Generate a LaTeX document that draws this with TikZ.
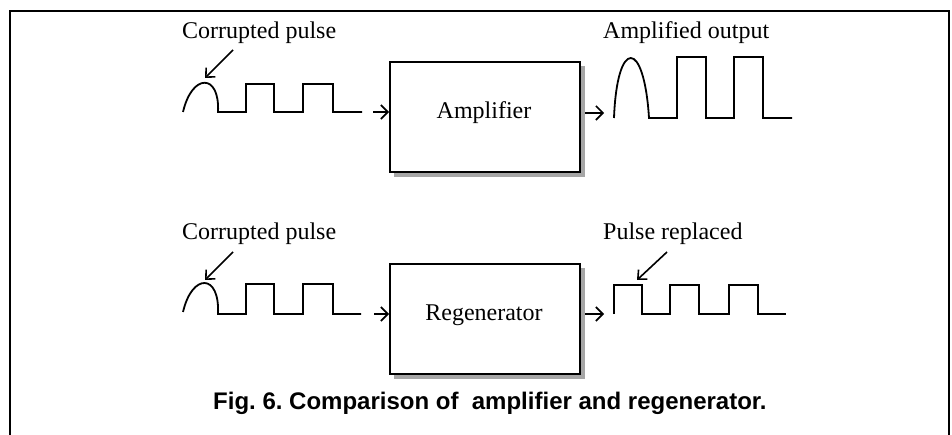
\documentclass[tikz,border=0pt]{standalone}
\usepackage{fontspec}
\setmainfont{Liberation Serif}
\setsansfont{Liberation Sans}
\usetikzlibrary{arrows.meta}
\frenchspacing
\begin{document}
\begin{tikzpicture}[x=1pt,y=-1pt,
  lbl/.style={font=\fontsize{24}{28}\selectfont, inner sep=0pt},
  wave/.style={line width=1.8pt, line join=miter},
  blk/.style={draw, line width=1.8pt, fill=white},
  shadowbox/.style={fill=gray!70, draw=none},
  ptr/.style={line width=1.6pt, -{Straight Barb[length=7pt,width=13pt,line width=1.6pt]}},
  sig/.style={line width=1.6pt, -{Straight Barb[length=7pt,width=14pt,line width=1.6pt]}}]
\useasboundingbox (0,0) rectangle (952,435);
% frame
\draw[line width=2pt] (10,435) -- (10,11) -- (949,11) -- (949,435);

% ---------- top row ----------
\node[lbl, anchor=base west] (cp1) at (182,39) {Corrupted pulse};
\coordinate (cp1tip) at (205,78);
\draw[ptr] (233,50) -- (cp1tip);
\draw[wave] (183,112) .. controls (192,73) and (220,73) .. (218,112)
  -- (246,112) -- (246,84) -- (274,84) -- (274,112) -- (303,112)
  -- (303,84) -- (333,84) -- (333,112) -- (362,112);
\coordinate (in1) at (373,112);
\fill[shadowbox] (394,66) rectangle (585,177);
\node[blk, minimum width=190pt, minimum height=110pt, anchor=north west] (amp) at (389,61) {};
\node[lbl, anchor=base] (ampt) at (484,119) {Amplifier};
\draw[sig] (in1) -- (amp.west |- in1);
\coordinate (out1) at (604,113);
\draw[sig] (585,113) -- (out1);
\node[lbl, anchor=base west] (ao) at (603,39) {Amplified output};
\draw[wave] (614,118) .. controls (617,38) and (644,38) .. (649,118)
  -- (677,118) -- (677,57) -- (706,57) -- (706,118) -- (734,118)
  -- (734,57) -- (763,57) -- (763,118) -- (792,118);

% ---------- bottom row ----------
\node[lbl, anchor=base west] (cp2) at (182,240) {Corrupted pulse};
\coordinate (cp2tip) at (205,280);
\draw[ptr] (233,252) -- (cp2tip);
\draw[wave] (183,312) .. controls (192,273) and (220,273) .. (218,314)
  -- (246,314) -- (246,284) -- (274,284) -- (274,314) -- (303,314)
  -- (303,284) -- (333,284) -- (333,314) -- (361,314);
\coordinate (in2) at (374,314);
\fill[shadowbox] (394,268) rectangle (585,379);
\node[blk, minimum width=190pt, minimum height=110pt, anchor=north west] (reg) at (389,263) {};
\node[lbl, anchor=base] (regt) at (484,320) {Regenerator};
\draw[sig] (in2) -- (reg.west |- in2);
\coordinate (out2) at (604,314);
\draw[sig] (585,314) -- (out2);
\node[lbl, anchor=base west] (pr) at (603,240) {Pulse replaced};
\coordinate (prtip) at (637,280);
\draw[ptr] (667,252) -- (prtip);
\draw[wave] (614,314) -- (614,285) -- (642,285) -- (642,314) -- (670,314)
  -- (670,285) -- (699,285) -- (699,314) -- (729,314)
  -- (729,285) -- (758,285) -- (758,314) -- (786,314);

% caption
\node[font=\sffamily\bfseries\fontsize{24}{28}\selectfont, inner sep=0pt, anchor=base west] (cap) at (213,409) {Fig. 6. Comparison of\ \ amplifier and regenerator.};
\end{tikzpicture}
\end{document}
